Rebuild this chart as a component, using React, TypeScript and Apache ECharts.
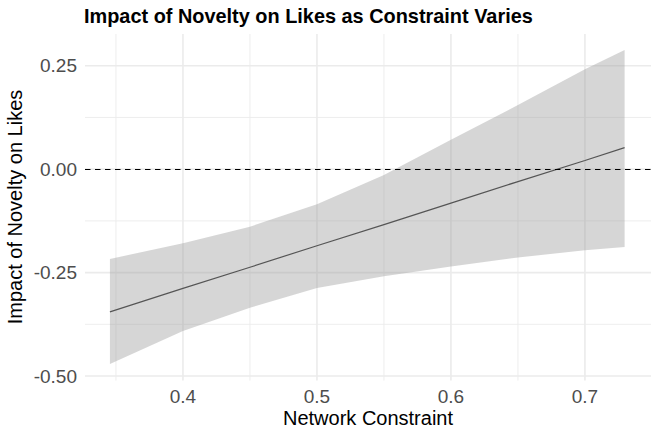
import React, { useEffect, useRef } from "react";
import * as echarts from "echarts";

// ---- data ----
const X_VALUES = [0.3455, 0.4, 0.45, 0.5, 0.55, 0.6, 0.65, 0.7, 0.7296];
const FIT = [-0.345, -0.288, -0.237, -0.185, -0.134, -0.082, -0.03, 0.021, 0.052];
const UPPER = [-0.217, -0.179, -0.139, -0.085, -0.014, 0.071, 0.155, 0.2415, 0.288];
const LOWER = [-0.471, -0.391, -0.335, -0.287, -0.259, -0.235, -0.2135, -0.196, -0.188];

const X_TICKS = [0.4, 0.5, 0.6, 0.7];
const X_MINOR = [0.35, 0.45, 0.55, 0.65];
const Y_TICKS = [-0.5, -0.25, 0, 0.25];
const Y_MINOR = [-0.375, -0.125, 0.125];

const X_MIN = 0.3269;
const X_MAX = 0.7493;
const Y_MIN = -0.511;
const Y_MAX = 0.3266;

const TITLE = "Impact of Novelty on Likes as Constraint Varies";
const X_TITLE = "Network Constraint";
const Y_TITLE = "Impact of Novelty on Likes";

const FONT = "'Liberation Sans', Arial, Helvetica, sans-serif";

export default function App() {
  const ref = useRef<HTMLDivElement>(null);

  useEffect(() => {
    if (!ref.current) return;
    const chart = echarts.init(ref.current, null, { renderer: "svg" });

    const option: any = {
      animation: false,
      backgroundColor: "#ffffff",
      textStyle: { fontFamily: FONT },
      grid: { left: 85, top: 34, width: 566, height: 346.6, containLabel: false },
      xAxis: {
        type: "value",
        min: X_MIN,
        max: X_MAX,
        axisLine: { show: false },
        axisTick: { show: false },
        splitLine: { show: false },
        axisLabel: {
          customValues: X_TICKS,
          formatter: (v: number) => v.toFixed(1),
          color: "#4d4d4d",
          fontSize: 19,
          fontFamily: FONT,
          margin: 6,
        },
      },
      yAxis: {
        type: "value",
        min: Y_MIN,
        max: Y_MAX,
        axisLine: { show: false },
        axisTick: { show: false },
        splitLine: { show: false },
        axisLabel: {
          customValues: Y_TICKS,
          formatter: (v: number) => v.toFixed(2),
          color: "#4d4d4d",
          fontSize: 19,
          fontFamily: FONT,
          margin: 8,
        },
      },
      graphic: [
        {
          type: "text",
          left: 84,
          top: 5.5,
          style: {
            text: TITLE,
            fill: "#000000",
            font: `bold 19.9px ${FONT}`,
          },
        },
        {
          type: "text",
          x: 368,
          y: 417.5,
          style: {
            text: X_TITLE,
            fill: "#000000",
            font: `20px ${FONT}`,
            textAlign: "center",
            textVerticalAlign: "middle",
          },
        },
        {
          type: "text",
          x: 14.5,
          y: 207,
          rotation: Math.PI / 2,
          style: {
            text: Y_TITLE,
            fill: "#000000",
            font: `20px ${FONT}`,
            textAlign: "center",
            textVerticalAlign: "middle",
          },
        },
      ],
      series: [
        {
          name: "grid",
          type: "custom",
          silent: true,
          z: 1,
          data: [[X_TICKS[0], Y_TICKS[0]]],
          renderItem: (_params: any, api: any) => {
            const children: any[] = [];
            const vline = (x: number, w: number) => {
              const a = api.coord([x, Y_MIN]);
              const b = api.coord([x, Y_MAX]);
              children.push({
                type: "line",
                shape: { x1: a[0], y1: a[1], x2: b[0], y2: b[1] },
                style: { stroke: "#ebebeb", lineWidth: w },
              });
            };
            const hline = (y: number, w: number) => {
              const a = api.coord([X_MIN, y]);
              const b = api.coord([X_MAX, y]);
              children.push({
                type: "line",
                shape: { x1: a[0], y1: a[1], x2: b[0], y2: b[1] },
                style: { stroke: "#ebebeb", lineWidth: w },
              });
            };
            X_MINOR.forEach((x) => vline(x, 0.9));
            Y_MINOR.forEach((y) => hline(y, 0.9));
            X_TICKS.forEach((x) => vline(x, 1.6));
            Y_TICKS.forEach((y) => hline(y, 1.6));
            return { type: "group", children };
          },
        },
        {
          name: "ribbon",
          type: "custom",
          silent: true,
          z: 2,
          data: [[X_VALUES[0], UPPER[0]]],
          renderItem: (_params: any, api: any) => {
            const pts: number[][] = [];
            for (let i = 0; i < X_VALUES.length; i++) pts.push(api.coord([X_VALUES[i], UPPER[i]]));
            for (let i = X_VALUES.length - 1; i >= 0; i--) pts.push(api.coord([X_VALUES[i], LOWER[i]]));
            return {
              type: "polygon",
              shape: { points: pts },
              style: { fill: "rgba(153,153,153,0.4)", stroke: "none" },
            };
          },
        },
        {
          name: "fit",
          type: "line",
          z: 3,
          silent: true,
          showSymbol: false,
          symbol: "none",
          data: X_VALUES.map((x, i) => [x, FIT[i]]),
          lineStyle: { color: "#555555", width: 1.2 },
          markLine: {
            silent: true,
            symbol: "none",
            z: 4,
            label: { show: false },
            lineStyle: { color: "#000000", width: 1.2, type: [5.5, 4.5] },
            data: [{ yAxis: 0 }],
          },
        },
      ],
    };

    chart.setOption(option);
    return () => chart.dispose();
  }, []);

  return (
    <div
      ref={ref}
      style={{ position: "fixed", left: 0, top: 0, width: 658, height: 431, background: "#fff" }}
    />
  );
}
